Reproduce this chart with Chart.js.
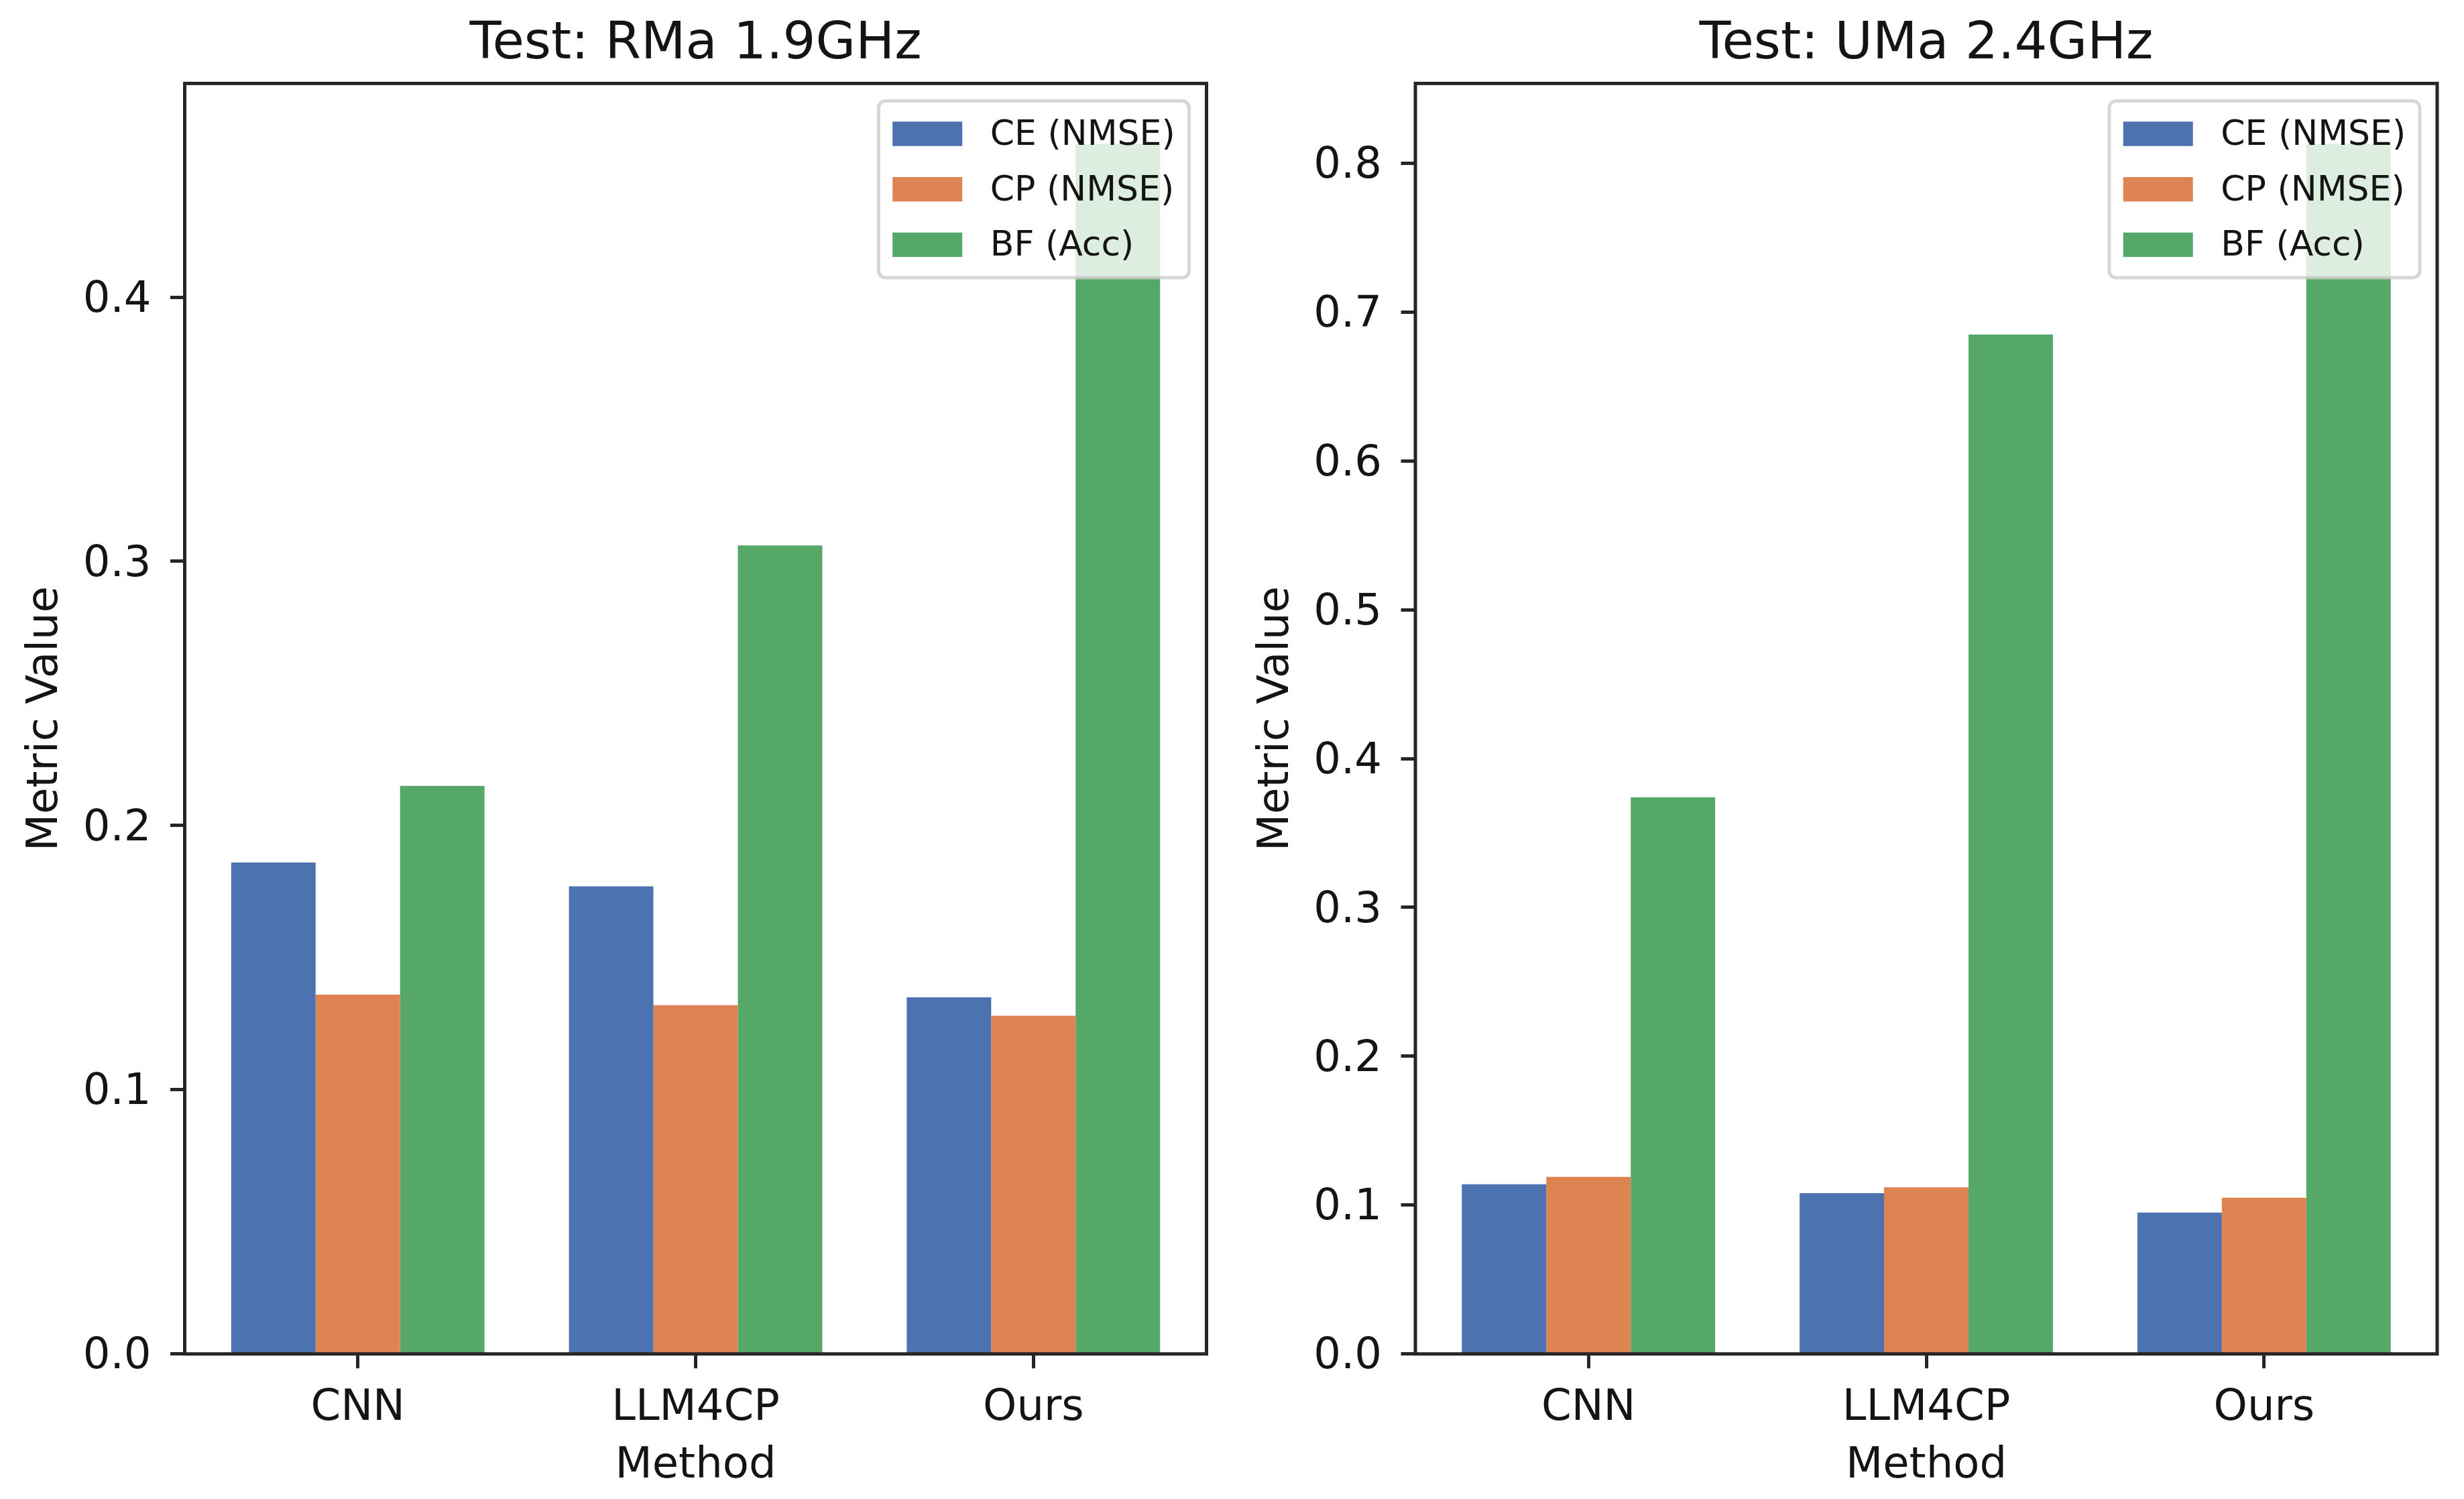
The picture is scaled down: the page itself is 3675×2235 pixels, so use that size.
<!DOCTYPE html>
<html>
<head>
<meta charset="utf-8">
<title>Test metrics by method</title>
<script src="https://cdn.jsdelivr.net/npm/chart.js@4.4.1/dist/chart.umd.min.js"></script>
<style>
  html, body { margin: 0; padding: 0; background: #fff; }
  body { width: 3675px; height: 2235px; position: relative; overflow: hidden; }
  .panel { position: absolute; top: 0; height: 2235px; }
  #panel-left { left: 0; width: 1840px; }
  #panel-right { left: 1836px; width: 1839px; }
</style>
</head>
<body>
<div class="panel" id="panel-left"><canvas id="chart-rma"></canvas></div>
<div class="panel" id="panel-right"><canvas id="chart-uma"></canvas></div>
<script>
'use strict';

// ── Data ──────────────────────────────────────────────────────────────
const methods = ['CNN', 'LLM4CP', 'Ours'];
const metricLabels = ['CE (NMSE)', 'CP (NMSE)', 'BF (Acc)'];
const metricColors = ['#4C72B0', '#DD8452', '#55A868'];

// Test: RMa 1.9GHz
const rmaCE = [0.186, 0.177, 0.135];
const rmaCP = [0.136, 0.132, 0.128];
const rmaBF = [0.215, 0.306, 0.458];

// Test: UMa 2.4GHz
const umaCE = [0.114, 0.108, 0.095];
const umaCP = [0.119, 0.112, 0.105];
const umaBF = [0.374, 0.685, 0.813];

// ── Style ─────────────────────────────────────────────────────────────
const TEXT = '#141414';
const SPINE = '#262626';
const FONT = '"DejaVu Sans", "Liberation Sans", sans-serif';
const TICK_SIZE = 64;

Chart.defaults.font.family = FONT;
Chart.defaults.color = TEXT;

// group of 3 bars takes 0.75 of a slot, matplotlib-like 5% margins
const GROUP = 0.75;
const xLo = -GROUP / 2;
const xHi = methods.length - 1 + GROUP / 2;
const xPad = 0.05 * (xHi - xLo);

// ── Full box of spines, drawn over the bars ───────────────────────────
const spinesPlugin = {
  id: 'spines',
  afterDatasetsDraw(chart) {
    const { ctx, chartArea: a } = chart;
    ctx.save();
    ctx.strokeStyle = SPINE;
    ctx.lineWidth = 5;
    ctx.strokeRect(a.left, a.top, a.right - a.left, a.bottom - a.top);
    ctx.restore();
  },
};

// ── Legend box inside the plot, upper right, semi-transparent ─────────
const boxLegendPlugin = {
  id: 'boxLegend',
  afterDraw(chart) {
    const { ctx, chartArea: a } = chart;
    const fs = 52;
    const pad = 0.4 * fs, rowH = 1.09 * fs, gap = 0.5 * fs;
    const handleW = 2 * fs, handleH = 0.7 * fs, textPad = 0.8 * fs;
    const sets = chart.data.datasets;

    ctx.save();
    ctx.font = `${fs}px ${FONT}`;
    const textW = Math.max(...sets.map(d => ctx.measureText(d.label).width));
    const w = 2 * pad + handleW + textPad + textW;
    const h = 2 * pad + sets.length * rowH + (sets.length - 1) * gap;
    const x = a.right - 0.5 * fs - w;
    const y = a.top + 0.5 * fs;

    ctx.beginPath();
    ctx.roundRect(x, y, w, h, 0.2 * fs);
    ctx.fillStyle = 'rgba(255,255,255,0.8)';
    ctx.fill();
    ctx.lineWidth = 5;
    ctx.strokeStyle = 'rgba(204,204,204,0.8)';
    ctx.stroke();

    ctx.textBaseline = 'middle';
    ctx.textAlign = 'left';
    sets.forEach((d, i) => {
      const cy = y + pad + i * (rowH + gap) + rowH / 2;
      ctx.fillStyle = d.backgroundColor;
      ctx.fillRect(x + pad, cy - handleH / 2, handleW, handleH);
      ctx.fillStyle = TEXT;
      ctx.fillText(d.label, x + pad + handleW + textPad, cy + 3);
    });
    ctx.restore();
  },
};

// ── One panel ─────────────────────────────────────────────────────────
function buildPanel(canvasId, title, series, yAxisWidth, padRight) {
  const yMax = Math.max(...series.flat()) * 1.05;

  const axisGrid = {
    display: true,
    drawOnChartArea: false,
    offset: false,
    tickLength: 21.5,
    tickWidth: 5,
    tickColor: SPINE,
  };

  return new Chart(document.getElementById(canvasId), {
    type: 'bar',
    data: {
      datasets: series.map((vals, k) => ({
        label: metricLabels[k],
        data: vals.map((v, i) => ({ x: i, y: v })),
        backgroundColor: metricColors[k],
        borderWidth: 0,
        categoryPercentage: GROUP,
        barPercentage: 1.0,
      })),
    },
    options: {
      responsive: true,
      maintainAspectRatio: false,
      animation: false,
      events: [],
      layout: { padding: { left: 0, right: padRight, top: 0, bottom: 0 } },
      plugins: {
        legend: { display: false },
        tooltip: { enabled: false },
        title: {
          display: true,
          fullSize: false,
          text: title,
          color: TEXT,
          font: { size: 77, weight: 'normal' },
          padding: { top: 21, bottom: 11 },
        },
      },
      scales: {
        x: {
          type: 'linear',
          offset: false,
          min: xLo - xPad,
          max: xHi + xPad,
          grid: axisGrid,
          border: { display: false },
          afterBuildTicks: axis => { axis.ticks = methods.map((_, i) => ({ value: i })); },
          ticks: {
            color: TEXT,
            font: { size: TICK_SIZE },
            padding: 22,
            maxRotation: 0,
            autoSkip: false,
            callback: v => methods[v],
          },
          title: {
            display: true,
            text: 'Method',
            color: TEXT,
            font: { size: TICK_SIZE },
            padding: { top: 0, bottom: 10 },
          },
          afterFit: s => { s.height = 216.3; },
        },
        y: {
          min: 0,
          max: yMax,
          grid: axisGrid,
          border: { display: false },
          ticks: {
            stepSize: 0.1,
            includeBounds: false,
            color: TEXT,
            font: { size: TICK_SIZE },
            padding: 28.5,
            labelOffset: 5,
            callback: v => v.toFixed(1),
          },
          title: {
            display: true,
            text: 'Metric Value',
            color: TEXT,
            font: { size: TICK_SIZE },
            padding: { top: 30, bottom: 0 },
          },
          afterFit: s => { s.width = yAxisWidth; },
        },
      },
    },
    plugins: [spinesPlugin, boxLegendPlugin],
  });
}

buildPanel('chart-rma', 'Test: RMa 1.9GHz', [rmaCE, rmaCP, rmaBF], 275.5, 40.5);
buildPanel('chart-uma', 'Test: UMa 2.4GHz', [umaCE, umaCP, umaBF], 275, 40);
</script>
</body>
</html>
